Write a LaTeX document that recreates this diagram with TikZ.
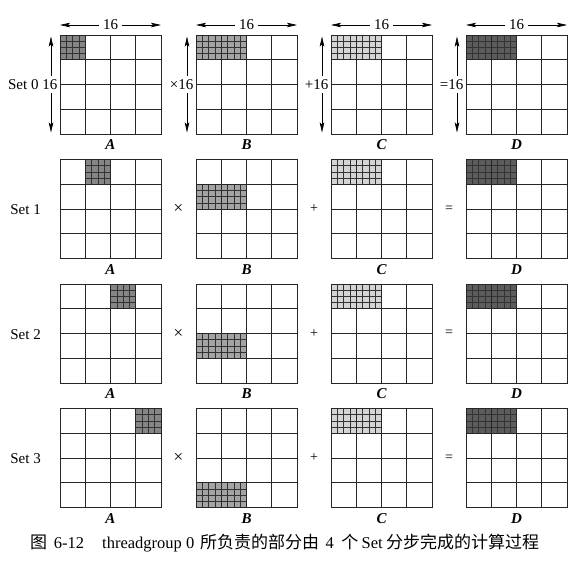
\documentclass[tikz,border=0pt]{standalone}
\usepackage{fontspec}
\setmainfont{Liberation Serif}
\newfontfamily\cjk{Noto Sans CJK SC}
\usetikzlibrary{arrows.meta,calc}

\definecolor{hlA}{gray}{0.52}
\definecolor{hlB}{gray}{0.64}
\definecolor{hlC}{gray}{0.83}
\definecolor{hlD}{gray}{0.36}

\tikzset{
  mat/.style={minimum width=101pt, minimum height=99pt, inner sep=0pt, outer sep=0pt, anchor=north west},
  gl/.style={line width=0.9pt, black!85},
  sub/.style={line width=0.5pt, black!80},
  lab/.style={font=\fontsize{15}{15}\selectfont\bfseries\itshape, inner sep=0pt},
  txt/.style={font=\fontsize{15}{15}\selectfont, inner sep=0pt},
  optxt/.style={font=\fontsize{14}{14}\selectfont, inner sep=0pt},
  dimline/.style={line width=0.6pt, {Stealth[length=10pt,width=4.5pt,inset=2pt]}-{Stealth[length=10pt,width=4.5pt,inset=2pt]}},
  gap/.style={fill=white, inner xsep=4pt, inner ysep=3pt},
}

% #1 node, #2 col, #3 row, #4 number of cells, #5 colour, #6 inner vertical lines
\newcommand\hlblk[6]{%
  \path ($(#1.north west)+(#2*25.25,#3*24.75)$) coordinate (o);
  \fill[#5] (o) rectangle ++(#4*25.25,24.75);
  \foreach \k in {1,2,3} {\draw[sub] ($(o)+(0,\k*6.1875)$) -- ++(#4*25.25,0);}
  \foreach \k in {1,...,#6} {\draw[sub] ($(o)+(\k*6.3125,0)$) -- ++(0,24.75);}
}
\newcommand\grd[1]{%
  \foreach \k in {1,2,3} {%
    \draw[gl] ($(#1.north west)!\k/4!(#1.north east)$) -- ($(#1.south west)!\k/4!(#1.south east)$);
    \draw[gl] ($(#1.north west)!\k/4!(#1.south west)$) -- ($(#1.north east)!\k/4!(#1.south east)$);
  }
  \draw[gl] (#1.north west) rectangle (#1.south east);
}
% #1 index, #2 top y, #3 A column, #4 B row
\newcommand\mrow[4]{%
  \node[mat] (A#1) at (60,#2) {};
  \node[mat] (B#1) at (196,#2) {};
  \node[mat] (C#1) at (331,#2) {};
  \node[mat] (D#1) at (466,#2) {};
  \hlblk{A#1}{#3}{0}{1}{hlA}{3}
  \hlblk{B#1}{0}{#4}{2}{hlB}{7}
  \hlblk{C#1}{0}{0}{2}{hlC}{7}
  \hlblk{D#1}{0}{0}{2}{hlD}{7}
  \grd{A#1}\grd{B#1}\grd{C#1}\grd{D#1}
  \node[lab] (A#1l) at ($(A#1.south)+(0,11)$) {A};
  \node[lab] (B#1l) at ($(B#1.south)+(0,11)$) {B};
  \node[lab] (C#1l) at ($(C#1.south)+(0,11)$) {C};
  \node[lab] (D#1l) at ($(D#1.south)+(0,11)$) {D};
}
% dimension arrows for a matrix in row 0: #1 node, #2 left label
\newcommand\dims[2]{%
  \coordinate (#1ht) at ($(#1.north west)+(0,-10)$);
  \coordinate (#1hb) at ($(#1.north east)+(0,-10)$);
  \draw[dimline] (#1ht) -- (#1hb);
  \node[txt,gap] (#1hl) at ($(#1ht)!0.5!(#1hb)$) {16};
  \coordinate (#1vt) at ($(#1.north west)+(-9,1.5)$);
  \coordinate (#1vb) at ($(#1.south west)+(-9,-1.5)$);
  \draw[dimline] (#1vt) -- (#1vb);
  \node[txt,fill=white,inner xsep=0.5pt,inner ysep=3pt,anchor=east] (#1vl) at ($(#1.west)+(-2,0)$) {#2};
}

\begin{document}
\begin{tikzpicture}[x=1pt,y=-1pt]
\fill[white] (0,0) rectangle (585,566);
\useasboundingbox (0,0) rectangle (585,566);

\mrow{0}{35}{0}{0}
\mrow{1}{159.5}{1}{1}
\mrow{2}{284}{2}{2}
\mrow{3}{408.5}{3}{3}

\dims{A0}{Set 0 16}
\dims{B0}{×16}
\dims{C0}{+16}
\dims{D0}{=16}

\foreach \r in {1,2,3} {
  \node[txt,anchor=east] (S\r) at ($(A\r.west)+(-19,1)$) {Set \r};
  \node[optxt,font=\fontsize{17}{17}\selectfont] (X\r) at ($(A\r.east)!0.5!(B\r.west)$) {×};
  \node[optxt] (P\r) at ($(B\r.east)!0.5!(C\r.west)$) {+};
  \node[optxt] (E\r) at ($(C\r.east)!0.5!(D\r.west)$) {=};
}

\newcommand\cn[1]{{\fontsize{17}{17}\selectfont\cjk #1}}
\node[font=\fontsize{16.5}{16.5}\selectfont, inner sep=0pt, anchor=west] (cap) at (30,543)
  {\cn{图}\hspace{0.4em}6-12\hspace{1.1em}threadgroup 0\hspace{0.35em}\cn{所负责的部分由}\hspace{0.4em}4\hspace{0.45em}\cn{个}\hspace{0.2em}Set\hspace{0.2em}\cn{分步完成的计算过程}};
\end{tikzpicture}
\end{document}
